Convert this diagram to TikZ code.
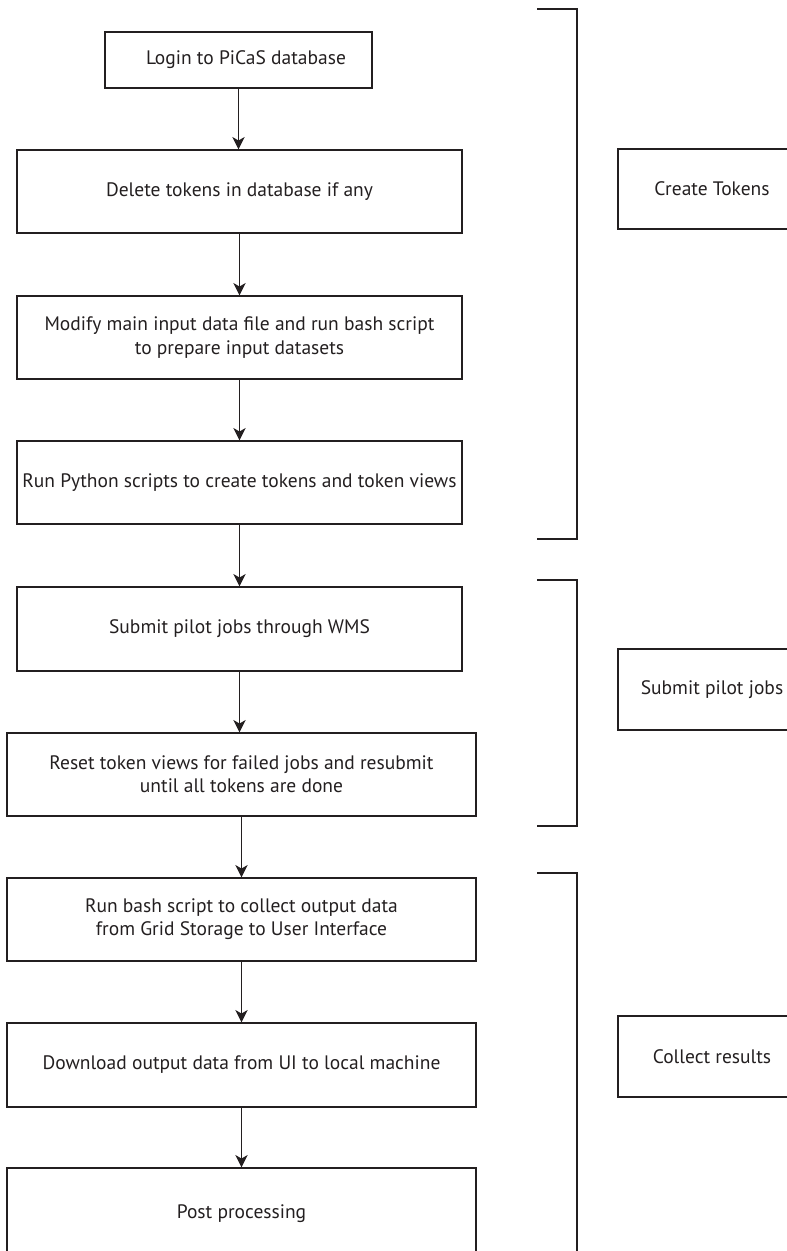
\documentclass[tikz,border=0pt]{standalone}
\usepackage{fontspec}
\setmainfont{PT Sans}
\usetikzlibrary{arrows.meta}
\definecolor{ink}{RGB}{35,31,32}

\begin{document}
\begin{tikzpicture}[x=0.02cm,y=-0.02cm,
    line width=0.8pt, draw=ink,
    stepbox/.style={draw=ink, inner sep=0pt, align=center, text=ink,
      font=\fontsize{11.1}{13.2}\selectfont},
    phasebox/.style={stepbox},
    flow/.style={-{Stealth[length=7pt,width=7pt,inset=2pt]}},
  ]
  \useasboundingbox (0,0) rectangle (787,1251);
  % steps
  \node[stepbox, minimum width=5.34cm, minimum height=1.12cm] (login) at (238.5,60) {\hspace*{0.3cm}Login to PiCaS database};
  \node[stepbox, minimum width=8.9cm, minimum height=1.66cm] (delete) at (239.5,191.5) {Delete tokens in database if any};
  \node[stepbox, minimum width=8.9cm, minimum height=1.66cm] (modify) at (239.5,337.5) {Modify main input data file and run bash script\\to prepare input datasets};
  \node[stepbox, minimum width=8.9cm, minimum height=1.66cm] (python) at (239.5,482.5) {Run Python scripts to create tokens and token views};
  \node[stepbox, minimum width=8.9cm, minimum height=1.68cm] (submit) at (239.5,629) {Submit pilot jobs through WMS};
  \node[stepbox, minimum width=9.38cm, minimum height=1.66cm] (reset) at (241.5,774.5) {Reset token views for failed jobs and resubmit\\until all tokens are done};
  \node[stepbox, minimum width=9.38cm, minimum height=1.66cm] (collect) at (241.5,919.5) {Run bash script to collect output data\\from Grid Storage to User Interface};
  \node[stepbox, minimum width=9.38cm, minimum height=1.68cm] (download) at (241.5,1065) {Download output data from UI to local machine};
  \node[stepbox, minimum width=9.38cm, minimum height=1.84cm] (post) at (241.5,1214) {Post processing};

  \draw[flow] (login.south) -- (login.south |- delete.north);
  \draw[flow] (delete.south) -- (delete.south |- modify.north);
  \draw[flow] (modify.south) -- (modify.south |- python.north);
  \draw[flow] (python.south) -- (python.south |- submit.north);
  \draw[flow] (submit.south) -- (submit.south |- reset.north);
  \draw[flow] (reset.south) -- (reset.south |- collect.north);
  \draw[flow] (collect.south) -- (collect.south |- download.north);
  \draw[flow] (download.south) -- (download.south |- post.north);

  % phases
  \draw (537,9) -- (577,9) -- (577,539) -- (537,539);
  \draw (537,580) -- (577,580) -- (577,826) -- (537,826);
  \draw (537,873) -- (577,873) -- (577,1270);
  \node[phasebox, minimum width=3.76cm, minimum height=1.6cm] (tokens) at (712,189) {Create Tokens};
  \node[phasebox, minimum width=3.76cm, minimum height=1.62cm] (pilots) at (712,689.5) {Submit pilot jobs};
  \node[phasebox, minimum width=3.76cm, minimum height=1.62cm] (results) at (712,1056.5) {Collect results};
\end{tikzpicture}
\end{document}
